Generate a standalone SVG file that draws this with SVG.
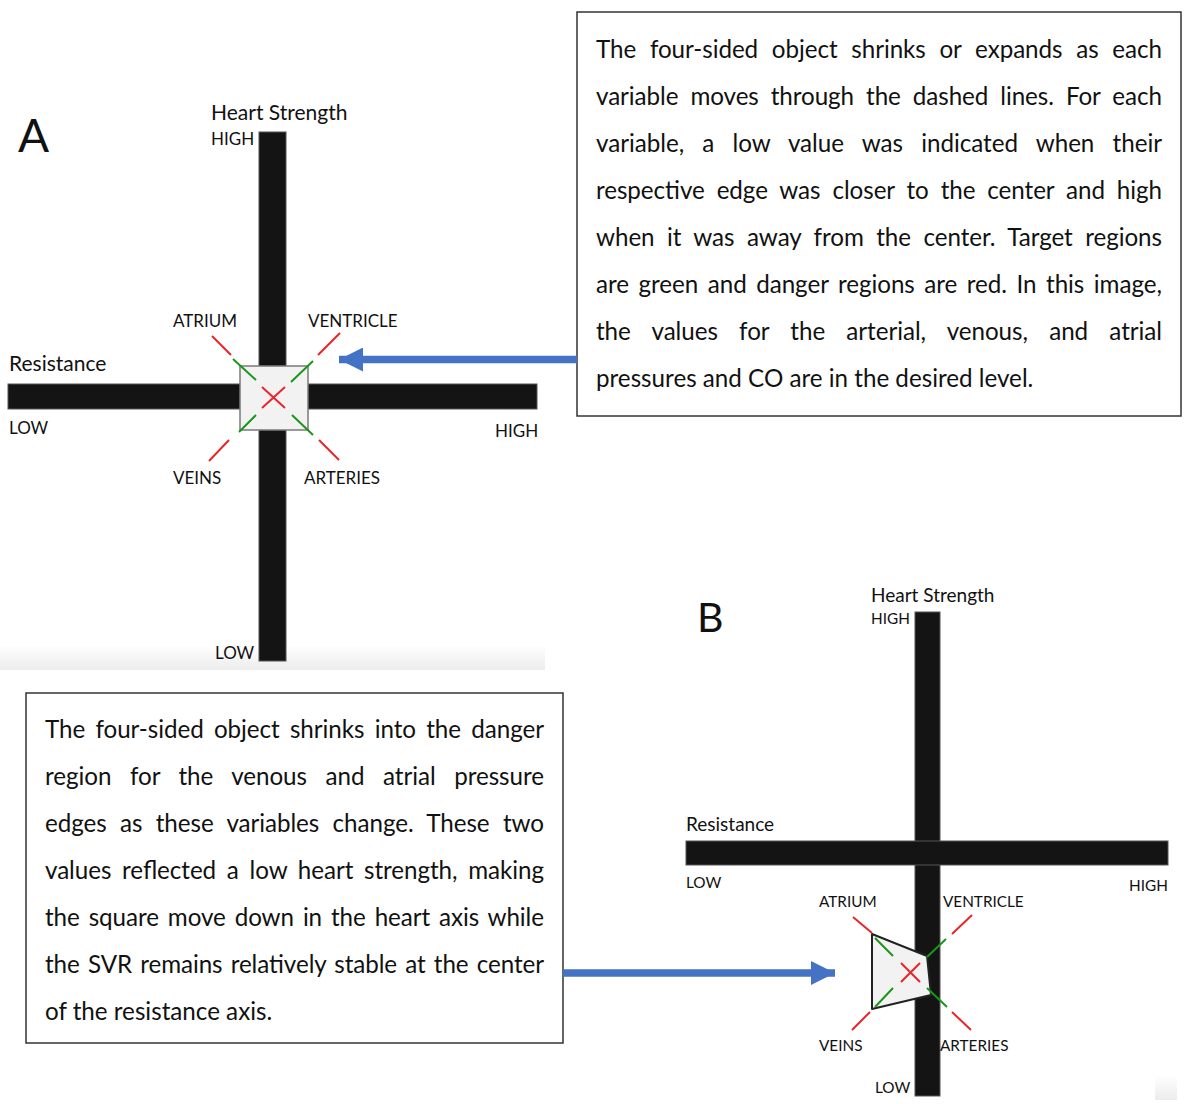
<svg xmlns="http://www.w3.org/2000/svg" width="1200" height="1104" viewBox="0 0 1200 1104">
<defs>
<style>
text{font-family:Lato,"Open Sans","Liberation Sans",sans-serif;fill:#111}
.bar{fill:#141414;stroke:#555;stroke-width:1}
.lbl{font-size:17px}
.lblb{font-size:15.3px}
.body{font-size:24.2px}
.box{fill:#fff;stroke:#333;stroke-width:1.5}
.red{stroke:#e8262a;stroke-width:2;fill:none}
.grn{stroke:#1a961a;stroke-width:2;fill:none}
.big{font-size:46px}
</style>
<linearGradient id="band" x1="0" y1="0" x2="0" y2="1">
<stop offset="0" stop-color="#ffffff"/>
<stop offset="1" stop-color="#ececec"/>
</linearGradient>
<marker id="ah" viewBox="0 0 10 10" refX="10" refY="5" markerWidth="3.2" markerHeight="3.2" markerUnits="strokeWidth" orient="auto">
<path d="M0,0 L10,5 L0,10 z" fill="#4472c4"/>
</marker>
</defs>
<rect width="1200" height="1104" fill="#fff"/>
<rect x="0" y="645" width="545" height="25" fill="url(#band)"/>
<rect x="1155" y="1075" width="22" height="25" fill="url(#band)"/>

<g id="panelA">
<text x="18" y="152" class="big">A</text>
<text x="211" y="120" style="font-size:21px">Heart Strength</text>
<text x="211" y="145" class="lbl">HIGH</text>
<rect class="bar" x="259" y="132" width="27" height="529"/>
<rect class="bar" x="8" y="384" width="529" height="25"/>
<text x="9" y="371" style="font-size:21px">Resistance</text>
<text x="9" y="434" class="lbl">LOW</text>
<text x="495" y="437" class="lbl">HIGH</text>
<text x="215" y="659" class="lbl">LOW</text>
<rect x="240" y="366" width="68" height="64" fill="#f2f2f2" stroke="#7a7a7a" stroke-width="1.5"/>
<path class="red" d="M262,387 L285,408 M285,387 L262,408"/>
<path class="red" d="M231,355 L212,336 M318,355 L340,333 M229,440 L209,461 M319,440 L339,460"/>
<path class="grn" d="M256,380 L233,359 M291,382 L313,361 M256,415 L239,432 M292,415 L313,435"/>
<text x="173" y="327" class="lbl">ATRIUM</text>
<text x="308" y="327" class="lbl">VENTRICLE</text>
<text x="173" y="484" class="lbl">VEINS</text>
<text x="304" y="484" class="lbl">ARTERIES</text>
</g>

<g id="noteA">
<rect class="box" x="577" y="12" width="604" height="404"/>
<text class="body" x="596" y="58" word-spacing="7.6" textLength="566">The four-sided object shrinks or expands as each</text>
<text class="body" x="596" y="105" word-spacing="5.9" textLength="566">variable moves through the dashed lines. For each</text>
<text class="body" x="596" y="152" word-spacing="12.1" textLength="566">variable, a low value was indicated when their</text>
<text class="body" x="596" y="199" word-spacing="5.8" textLength="566">respective edge was closer to the center and high</text>
<text class="body" x="596" y="246" word-spacing="6.3" textLength="566">when it was away from the center. Target regions</text>
<text class="body" x="596" y="293" word-spacing="3.4" textLength="566">are green and danger regions are red. In this image,</text>
<text class="body" x="596" y="340" word-spacing="15.1" textLength="566">the values for the arterial, venous, and atrial</text>
<text class="body" x="596" y="387">pressures and CO are in the desired level.</text>
</g>

<g id="panelB">
<text x="697" y="632" style="font-size:41px">B</text>
<text x="871" y="602" style="font-size:19px">Heart Strength</text>
<text x="871" y="624" class="lblb">HIGH</text>
<rect class="bar" x="915" y="612" width="25" height="484"/>
<rect class="bar" x="686" y="841" width="482" height="24"/>
<text x="686" y="831" style="font-size:19px">Resistance</text>
<text x="686" y="888" class="lblb">LOW</text>
<text x="1129" y="891" class="lblb">HIGH</text>
<text x="875" y="1093" class="lblb">LOW</text>
<polygon points="872,934 927,956 931,995 872,1009" fill="#f2f2f2" stroke="#222" stroke-width="2" stroke-linejoin="round"/>
<path class="red" d="M901,963 L920,982 M920,963 L901,982"/>
<path class="red" d="M853,917 L872,933 M952,934 L972,915 M870,1012 L852,1030 M952,1012 L971,1030"/>
<path class="grn" d="M875,938 L893,956 M927,957 L946,939 M875,1007 L893,988 M927,988 L947,1007"/>
<text x="819" y="907" class="lblb">ATRIUM</text>
<text x="943" y="907" class="lblb">VENTRICLE</text>
<text x="819" y="1051" class="lblb">VEINS</text>
<text x="940" y="1051" class="lblb">ARTERIES</text>
</g>

<g id="noteB">
<rect class="box" x="26" y="693" width="537" height="350"/>
<text class="body" x="45" y="738" word-spacing="4.1" textLength="499">The four-sided object shrinks into the danger</text>
<text class="body" x="45" y="785" word-spacing="12.4" textLength="499">region for the venous and atrial pressure</text>
<text class="body" x="45" y="832" word-spacing="7.2" textLength="499">edges as these variables change. These two</text>
<text class="body" x="45" y="879" word-spacing="4.6" textLength="499">values reflected a low heart strength, making</text>
<text class="body" x="45" y="926" word-spacing="2.8" textLength="499">the square move down in the heart axis while</text>
<text class="body" x="45" y="973" word-spacing="2.1" textLength="499">the SVR remains relatively stable at the center</text>
<text class="body" x="45" y="1020">of the resistance axis.</text>
</g>

<g id="connectors">
<line x1="577" y1="359.5" x2="339" y2="359.5" stroke="#4472c4" stroke-width="7.5" marker-end="url(#ah)"/>
<line x1="563" y1="973" x2="835" y2="973" stroke="#4472c4" stroke-width="7.5" marker-end="url(#ah)"/>
</g>
</svg>
